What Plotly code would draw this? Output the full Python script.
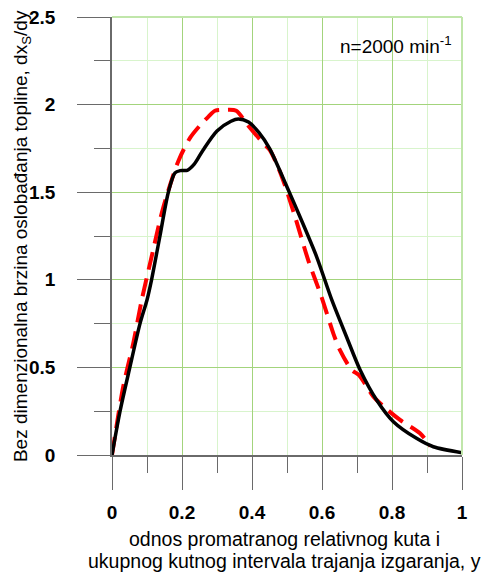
import plotly.graph_objects as go

# Black solid curve
black_x = [0, 0.023, 0.051, 0.08, 0.1, 0.113, 0.137, 0.161, 0.18, 0.195, 0.215, 0.235, 0.26, 0.3, 0.34,
           0.361, 0.39, 0.42, 0.45, 0.5, 0.537, 0.585, 0.628, 0.67, 0.709, 0.756, 0.804, 0.87, 0.918, 1.0]
black_y = [0, 0.25, 0.5, 0.75, 0.885, 1.0, 1.25, 1.5, 1.61, 1.623, 1.625, 1.66, 1.74, 1.85, 1.905,
           1.918, 1.9, 1.84, 1.75, 1.53, 1.36, 1.13, 0.885, 0.675, 0.485, 0.314, 0.19, 0.095, 0.047, 0.013]

# Red dashed curve
red_x = [0, 0.032, 0.061, 0.085, 0.113, 0.142, 0.161, 0.19, 0.223, 0.251, 0.275, 0.294, 0.323, 0.355,
         0.385, 0.432, 0.451, 0.485, 0.523, 0.561, 0.599, 0.633, 0.651, 0.685, 0.705, 0.747, 0.78,
         0.823, 0.88, 0.91]
red_y = [0, 0.39, 0.64, 0.885, 1.13, 1.38, 1.51, 1.68, 1.81, 1.88, 1.93, 1.965, 1.97, 1.965,
         1.89, 1.78, 1.74, 1.59, 1.36, 1.11, 0.9, 0.69, 0.6, 0.485, 0.457, 0.333, 0.27,
         0.2, 0.124, 0.05]

x_ticks = [0, 0.2, 0.4, 0.6, 0.8, 1]
x_tick_labels = ["0", "0.2", "0.4", "0.6", "0.8", "1"]
y_ticks = [0, 0.5, 1, 1.5, 2, 2.5]
y_tick_labels = ["0", "0.5", "1", "1.5", "2", "2.5"]

x_title_lines = ["odnos promatranog relativnog kuta i",
                 "ukupnog kutnog intervala trajanja izgaranja, y"]
y_title = "Bez dimenzionalna brzina oslobađanja topline, dx<sub>S</sub>/dy"
note = "n=2000 min<sup>-1</sup>"

FONT = "Arial, Liberation Sans, sans-serif"
MAJOR_GRID = "#a3d47c"
MINOR_GRID = "#d8f4cc"
AXIS_COL = "#6a6a6a"

fig = go.Figure()
fig.add_trace(go.Scatter(x=red_x, y=red_y, mode="lines",
                         line=dict(color="#ff0000", width=4, dash="18px,9px", shape="spline", smoothing=0.8),
                         showlegend=False))
fig.add_trace(go.Scatter(x=black_x, y=black_y, mode="lines",
                         line=dict(color="#000000", width=3.5, shape="spline", smoothing=0.8),
                         showlegend=False))

common = dict(showline=True, linecolor=AXIS_COL, linewidth=1.5,
              ticks="outside", ticklen=33, tickcolor=AXIS_COL, tickwidth=1.3,
              showgrid=True, gridcolor=MAJOR_GRID, gridwidth=1.3, zeroline=False,
              automargin=False, ticklabeloverflow="allow",
              tickfont=dict(family=FONT, size=19, color="black", weight="bold"))
fig.update_xaxes(range=[0, 1], tickvals=x_ticks, ticktext=x_tick_labels, ticklabelstandoff=6,
                 minor=dict(dtick=0.1, tick0=0, ticks="outside", ticklen=16, tickcolor=AXIS_COL,
                            tickwidth=1.3, showgrid=True, gridcolor=MINOR_GRID, gridwidth=1.3),
                 **common)
fig.update_yaxes(range=[0, 2.5], tickvals=y_ticks, ticktext=y_tick_labels, ticklabelstandoff=18,
                 minor=dict(dtick=0.25, tick0=0, ticks="outside", ticklen=16, tickcolor=AXIS_COL,
                            tickwidth=1.3, showgrid=True, gridcolor=MINOR_GRID, gridwidth=1.3),
                 **common)

# top and right border
fig.add_shape(type="line", xref="paper", yref="paper", x0=0, x1=1, y0=1, y1=1,
              line=dict(color="#c0e6aa", width=2))
fig.add_shape(type="line", xref="paper", yref="paper", x0=1, x1=1, y0=0, y1=1,
              line=dict(color="#c0e6aa", width=2))

fig.add_annotation(text=note, xref="paper", yref="paper",
                   x=0.978, y=0.936, xanchor="right", yanchor="middle", showarrow=False,
                   font=dict(family=FONT, size=19, color="black"))

# axis titles as annotations (exact placement)
fig.add_annotation(text=x_title_lines[0], xref="paper", yref="paper",
                   x=0.492, y=-0.191, xanchor="center", yanchor="middle", showarrow=False,
                   font=dict(family=FONT, size=19.5, color="black"))
fig.add_annotation(text=x_title_lines[1], xref="paper", yref="paper",
                   x=0.492, y=-0.243, xanchor="center", yanchor="middle", showarrow=False,
                   font=dict(family=FONT, size=19.5, color="black"))
fig.add_annotation(text=y_title, xref="paper", yref="paper", textangle=-90,
                   x=-0.257, y=0.500, xanchor="center", yanchor="middle", showarrow=False,
                   font=dict(family=FONT, size=19, color="black"))

# page body has an 8px margin: shrink the figure so the plot lands where the reference has it
fig.update_layout(width=481, height=564, margin=dict(l=104, r=27, t=9, b=117),
                  plot_bgcolor="white", paper_bgcolor="white")

fig.write_html("out.html")
